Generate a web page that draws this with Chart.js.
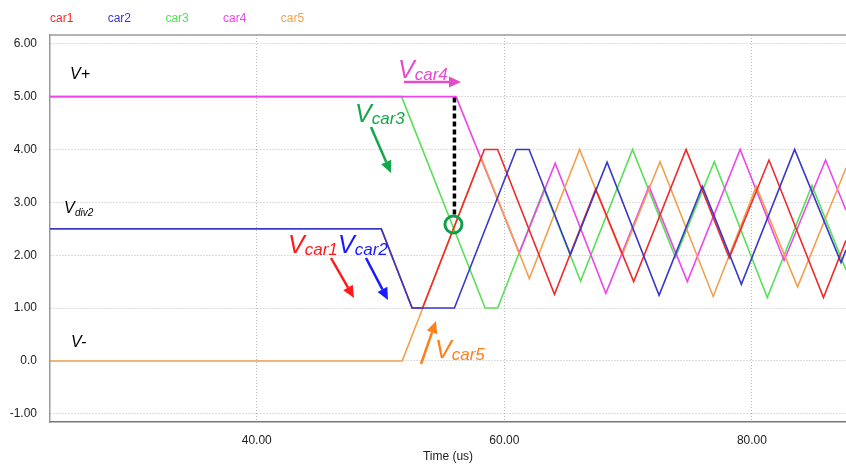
<!DOCTYPE html>
<html>
<head>
<meta charset="utf-8">
<script src="https://cdn.jsdelivr.net/npm/chart.js@4.4.0/dist/chart.umd.min.js"></script>
<style>
  html, body { margin: 0; padding: 0; background: #fff; }
  canvas { display: block; }
</style>
</head>
<body>
<canvas id="chart" width="846" height="465"></canvas>
<script>
// carrier vertices: time (us) / volts
const car1T = [23.3, 50.06, 52.55, 53.39, 58.39, 59.46, 64.05, 67.38, 70.45, 74.68, 78.17, 81.38, 85.78, 87.6];
const car1V = [2.5, 2.5, 1.0, 1.0, 4.0, 4.0, 1.26, 3.25, 1.5, 4.0, 1.95, 3.8, 1.2, 2.28];

const car2T = [23.3, 50.06, 52.55, 55.97, 60.97, 62.0, 65.34, 68.3, 72.5, 76.0, 79.15, 83.45, 87.2, 87.6];
const car2V = [2.5, 2.5, 1.0, 1.0, 4.0, 4.0, 2.01, 3.76, 1.24, 3.3, 1.45, 4.0, 1.86, 2.1];

const car3T = [23.3, 51.7, 58.45, 59.46, 63.21, 66.16, 70.36, 73.82, 76.96, 81.24, 84.85, 87.6];
const car3V = [5.0, 5.0, 1.0, 1.0, 3.25, 1.51, 4.0, 1.96, 3.77, 1.2, 3.32, 1.72];

const car4T = [23.3, 56.1, 61.2, 64.11, 68.2, 71.69, 74.78, 79.05, 82.6, 85.95, 87.6];
const car4V = [5.0, 5.0, 2.04, 3.74, 1.28, 3.3, 1.5, 4.0, 1.9, 3.8, 2.85];

const car5T = [23.3, 51.75, 58.13, 62.02, 66.08, 69.52, 72.58, 76.87, 80.35, 83.69, 87.6];
const car5V = [0.0, 0.0, 3.85, 1.56, 4.0, 2.0, 3.77, 1.22, 3.3, 1.4, 3.65];

const xTicks = [40, 60, 80];
const xTickLabels = ['40.00', '60.00', '80.00'];
const yTicks = [-1, 0, 1, 2, 3, 4, 5, 6];
const yTickLabels = ['-1.00', '0.0', '1.00', '2.00', '3.00', '4.00', '5.00', '6.00'];

// sampling instant marker (dotted line down to the circled crossing)
const markT = 55.97;
const markTop = 5.0;
const markV = 2.58;

const FONT = '"Liberation Sans", Arial, sans-serif';

function pts(t, v) {
	return t.map((x, i) => ({ x: x, y: v[i] }));
}

function series(label, t, v, color, order) {
	return {
		label: label,
		data: pts(t, v),
		borderColor: color,
		backgroundColor: color,
		borderWidth: 1.6,
		pointRadius: 0,
		showLine: true,
		fill: false,
		tension: 0,
		order: order
	};
}

function subText(ctx, x, y, main, sub, color, size, subSize) {
	ctx.fillStyle = color;
	ctx.font = 'italic ' + size + 'px ' + FONT;
	ctx.fillText(main, x, y);
	const w = ctx.measureText(main).width;
	ctx.font = 'italic ' + subSize + 'px ' + FONT;
	ctx.fillText(sub, x + w, y + 2);
}

function arrow(ctx, x1, y1, x2, y2, color) {
	const a = Math.atan2(y2 - y1, x2 - x1);
	const len = 12, half = 5.5;
	const bx = x2 - len * Math.cos(a), by = y2 - len * Math.sin(a);
	ctx.strokeStyle = color;
	ctx.fillStyle = color;
	ctx.lineWidth = 2.5;
	ctx.beginPath();
	ctx.moveTo(x1, y1);
	ctx.lineTo(bx, by);
	ctx.stroke();
	ctx.beginPath();
	ctx.moveTo(x2, y2);
	ctx.lineTo(bx + half * Math.sin(a), by - half * Math.cos(a));
	ctx.lineTo(bx - half * Math.sin(a), by + half * Math.cos(a));
	ctx.closePath();
	ctx.fill();
}

const decor = {
	id: 'decor',
	afterDraw(chart) {
		const ctx = chart.ctx;
		const area = chart.chartArea;
		const xs = chart.scales.x, ys = chart.scales.y;
		ctx.save();

		// top frame line
		ctx.strokeStyle = '#9a9a9a';
		ctx.lineWidth = 1.5;
		ctx.beginPath();
		ctx.moveTo(area.left, area.top);
		ctx.lineTo(area.right, area.top);
		ctx.stroke();

		// legend row
		ctx.font = '12px ' + FONT;
		ctx.textBaseline = 'alphabetic';
		chart.data.datasets.forEach((ds, i) => {
			ctx.fillStyle = ds.borderColor;
			ctx.fillText(ds.label, 50 + i * 57.7, 22);
		});

		// dotted marker and circle
		const mx = xs.getPixelForValue(markT);
		const cy = ys.getPixelForValue(markV);
		ctx.strokeStyle = '#000';
		ctx.lineWidth = 3.5;
		ctx.setLineDash([5, 3]);
		ctx.beginPath();
		ctx.moveTo(mx, ys.getPixelForValue(markTop) + 1);
		ctx.lineTo(mx, cy - 9);
		ctx.stroke();
		ctx.setLineDash([]);
		ctx.strokeStyle = '#10a04a';
		ctx.lineWidth = 3;
		ctx.beginPath();
		ctx.arc(mx - 1, cy, 8.5, 0, Math.PI * 2);
		ctx.stroke();

		// level labels
		ctx.fillStyle = '#000';
		ctx.font = 'italic 16px ' + FONT;
		ctx.fillText('V+', 70, 79);
		ctx.fillText('V-', 71, 347);
		ctx.fillText('V', 64, 213);
		ctx.font = 'italic 10px ' + FONT;
		ctx.fillText('div2', 75, 216);

		// carrier call-outs
		subText(ctx, 398, 78, 'V', 'car4', '#e64bc8', 25, 17);
		arrow(ctx, 404, 82, 461, 82, '#e64bc8');
		subText(ctx, 355, 122, 'V', 'car3', '#12a84a', 25, 17);
		arrow(ctx, 371, 127, 391, 173, '#12a84a');
		subText(ctx, 288, 253, 'V', 'car1', '#ff1a1a', 25, 17);
		arrow(ctx, 331, 258, 354, 298, '#ff1a1a');
		subText(ctx, 338, 253, 'V', 'car2', '#1a1aff', 25, 17);
		arrow(ctx, 366, 258, 388, 300, '#1a1aff');
		subText(ctx, 435, 358, 'V', 'car5', '#ff7f1a', 25, 17);
		arrow(ctx, 421, 364, 436, 321, '#ff7f1a');

		ctx.restore();
	}
};

new Chart(document.getElementById('chart'), {
	type: 'scatter',
	data: {
		datasets: [
			series('car1', car1T, car1V, '#f02a2a', 1),
			series('car2', car2T, car2V, '#3838c8', 0),
			series('car3', car3T, car3V, '#58e058', 4),
			series('car4', car4T, car4V, '#ec46ec', 3),
			series('car5', car5T, car5V, '#f2a04c', 2)
		]
	},
	options: {
		responsive: false,
		animation: false,
		layout: { padding: { top: 35, right: 0, bottom: 0, left: 0 } },
		plugins: {
			legend: { display: false },
			tooltip: { enabled: false }
		},
		scales: {
			x: {
				type: 'linear',
				min: 23.3,
				max: 87.6,
				afterBuildTicks: (s) => { s.ticks = xTicks.map(v => ({ value: v })); },
				afterFit: (s) => { s.height = 43; },
				ticks: {
					callback: (v, i) => xTickLabels[i],
					color: '#222',
					font: { size: 12, family: FONT },
					padding: 11,
					maxRotation: 0
				},
				grid: { color: '#b8b8b8', lineWidth: 1, drawTicks: false },
				border: { color: '#777', width: 1.5, dash: [1, 2] },
				title: {
					display: true,
					text: 'Time (us)',
					color: '#222',
					font: { size: 12, family: FONT },
					padding: { top: 0, bottom: 1 }
				}
			},
			y: {
				type: 'linear',
				min: -1.155,
				max: 6.165,
				afterBuildTicks: (s) => { s.ticks = yTicks.map(v => ({ value: v })); },
				afterFit: (s) => { s.width = 50; },
				ticks: {
					callback: (v, i) => yTickLabels[i],
					color: '#222',
					font: { size: 12, family: FONT },
					padding: 13
				},
				grid: { color: '#b8b8b8', lineWidth: 1, drawTicks: false },
				border: { color: '#9a9a9a', width: 1.5, dash: [1, 2] }
			}
		}
	},
	plugins: [decor]
});
</script>
</body>
</html>
